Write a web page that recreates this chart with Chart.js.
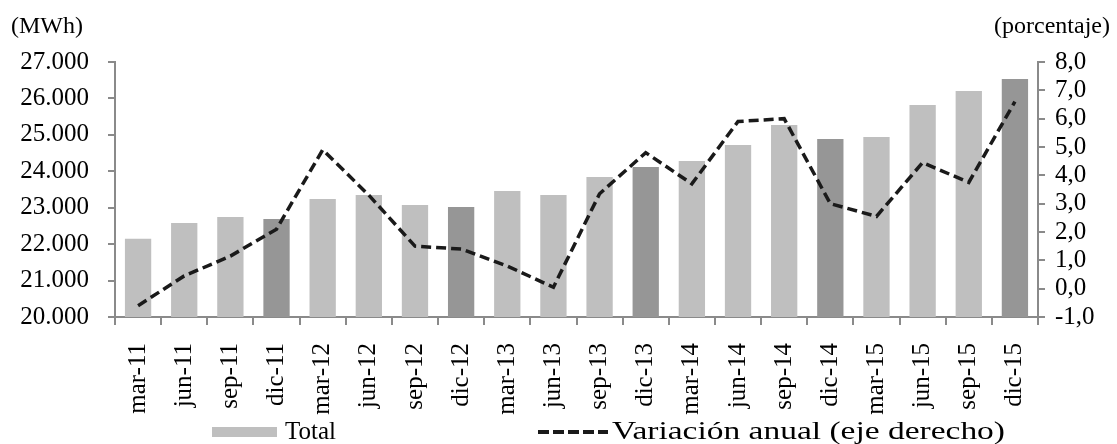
<!DOCTYPE html>
<html>
<head>
<meta charset="utf-8">
<script src="https://cdn.jsdelivr.net/npm/chart.js@4/dist/chart.umd.min.js"></script>
<style>
  html, body { margin: 0; padding: 0; background: #ffffff; }
  #wrap { width: 1117px; height: 444px; }
</style>
</head>
<body>
<div id="wrap"><canvas id="chart" width="1117" height="444"></canvas></div>
<script>
const quarters = ['mar-11', 'jun-11', 'sep-11', 'dic-11', 'mar-12', 'jun-12', 'sep-12', 'dic-12',
  'mar-13', 'jun-13', 'sep-13', 'dic-13', 'mar-14', 'jun-14', 'sep-14', 'dic-14',
  'mar-15', 'jun-15', 'sep-15', 'dic-15'];

const totalMWh = [22150, 22580, 22745, 22690, 23240, 23350, 23075, 23020,
  23460, 23350, 23845, 24120, 24285, 24720, 25270, 24885,
  24940, 25820, 26205, 26535];

const variacionAnual = [-0.6, 0.45, 1.15, 2.1, 4.9, 3.3, 1.5, 1.4,
  0.8, 0.05, 3.35, 4.8, 3.7, 5.9, 6.0, 3.0,
  2.55, 4.45, 3.75, 6.6];

const leftTicks = { min: 20000, max: 27000, step: 1000 };
const rightTicks = { min: -1, max: 8, step: 1 };

const serif = "'Liberation Serif', 'Times New Roman', serif";
const axisGray = '#8a8a8a';
const lightBar = '#bfbfbf';
const darkBar = '#969696';

const barColors = quarters.map((q) => (q.startsWith('dic') ? darkBar : lightBar));

const thousands = (v) => String(v).replace(/\B(?=(\d{3})+(?!\d))/g, '.');
const comma = (v) => Number(v).toFixed(1).replace('.', ',');

const extras = {
  id: 'extras',
  afterDraw(chart) {
    const ctx = chart.ctx;
    ctx.save();
    ctx.fillStyle = '#000';
    ctx.textBaseline = 'middle';
    ctx.font = `24px ${serif}`;
    ctx.textAlign = 'left';
    ctx.fillText('(MWh)', 11, 27);
    ctx.textAlign = 'right';
    ctx.fillText('(porcentaje)', 1110, 27);

    // leyenda
    ctx.fillStyle = lightBar;
    ctx.fillRect(212, 427, 65, 10);
    ctx.fillStyle = '#000';
    ctx.textAlign = 'left';
    ctx.font = `25px ${serif}`;
    ctx.fillText('Total', 285, 432);

    ctx.strokeStyle = '#1a1a1a';
    ctx.lineWidth = 4;
    ctx.setLineDash([11, 4]);
    ctx.beginPath();
    ctx.moveTo(538, 432);
    ctx.lineTo(608, 432);
    ctx.stroke();
    ctx.setLineDash([]);

    const label = 'Variación anual (eje derecho)';
    const w = ctx.measureText(label).width;
    ctx.translate(612, 432);
    ctx.scale(393 / w, 1);
    ctx.fillText(label, 0, 0);
    ctx.restore();
  },
};

new Chart(document.getElementById('chart'), {
  data: {
    labels: quarters,
    datasets: [
      {
        type: 'line',
        label: 'Variación anual (eje derecho)',
        data: variacionAnual,
        yAxisID: 'y1',
        borderColor: '#1a1a1a',
        borderWidth: 3.5,
        borderDash: [10, 5],
        pointRadius: 0,
        tension: 0,
        fill: false,
        order: 0,
      },
      {
        type: 'bar',
        label: 'Total',
        data: totalMWh,
        yAxisID: 'y',
        backgroundColor: barColors,
        barPercentage: 0.57,
        categoryPercentage: 1,
        order: 1,
      },
    ],
  },
  options: {
    responsive: false,
    devicePixelRatio: 1,
    animation: false,
    layout: { padding: { top: 62, left: 0, right: 0, bottom: 0 } },
    plugins: { legend: { display: false }, tooltip: { enabled: false } },
    scales: {
      x: {
        offset: true,
        grid: { display: true, drawOnChartArea: false, offset: true, tickLength: 8, color: axisGray, lineWidth: 2 },
        border: { display: true, color: axisGray, width: 2 },
        ticks: { autoSkip: false, minRotation: 90, maxRotation: 90, padding: 18, color: '#000', font: { family: serif, size: 25 } },
        afterFit(scale) { scale.height = 127; },
      },
      y: {
        position: 'left',
        min: leftTicks.min,
        max: leftTicks.max,
        grid: { display: true, drawOnChartArea: false, tickLength: 7, color: axisGray, lineWidth: 2 },
        border: { display: true, color: axisGray, width: 2 },
        ticks: { autoSkip: false, stepSize: leftTicks.step, padding: 19, color: '#000', font: { family: serif, size: 25 }, callback: (v) => thousands(v) },
        afterFit(scale) { scale.width = 115; },
      },
      y1: {
        position: 'right',
        min: rightTicks.min,
        max: rightTicks.max,
        grid: { display: true, drawOnChartArea: false, tickLength: 7, color: axisGray, lineWidth: 2 },
        border: { display: true, color: axisGray, width: 2 },
        ticks: { autoSkip: false, stepSize: rightTicks.step, padding: 10, color: '#000', font: { family: serif, size: 25 }, callback: (v) => comma(v) },
        afterFit(scale) { scale.width = 79; },
      },
    },
  },
  plugins: [extras],
});
</script>
</body>
</html>
